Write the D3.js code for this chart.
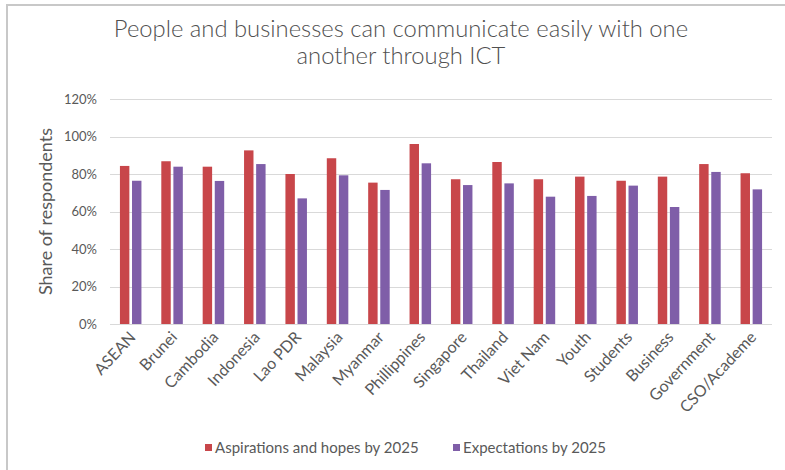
<!DOCTYPE html>
<html>
<head>
<meta charset="utf-8">
<script src="https://cdn.jsdelivr.net/npm/d3@7"></script>
<style>
  html, body { margin: 0; padding: 0; background: #fff; }
  svg { display: block; font-family: Lato, "Open Sans", sans-serif; }
</style>
</head>
<body>
<svg id="chart" width="785" height="470"></svg>
<script>
// Survey responses: share agreeing that people and businesses communicate easily via ICT
const categories = ["ASEAN", "Brunei", "Cambodia", "Indonesia", "Lao PDR", "Malaysia", "Myanmar",
  "Phillippines", "Singapore", "Thailand", "Viet Nam", "Youth", "Students", "Business",
  "Government", "CSO/Academe"];
const seriesNames = ["Aspirations and hopes by 2025", "Expectations by 2025"];
const aspirations = [84.3, 86.8, 83.9, 92.6, 80.0, 88.4, 75.4, 96.0, 77.2, 86.4, 77.2, 78.6, 76.4, 78.6, 85.3, 80.4];
const expectations = [76.4, 83.9, 76.3, 85.3, 67.0, 79.3, 71.5, 85.7, 74.1, 75.0, 67.9, 68.3, 73.8, 62.4, 81.1, 71.8];
const yTicks = [0, 20, 40, 60, 80, 100, 120];
const seriesColors = ["#c8464a", "#7f5ea8"];

const svg = d3.select("#chart");

// outer frame
svg.append("path")
  .attr("d", "M7,470 V5 H785")
  .attr("fill", "none")
  .attr("stroke", "#c8c8c8")
  .attr("stroke-width", 2);

const plot = { left: 110, right: 772, top: 99, bottom: 324 };

const x0 = d3.scaleBand()
  .domain(categories)
  .range([plot.left, plot.right])
  .paddingInner(0.48)
  .paddingOuter(0.24);

const x1 = d3.scaleBand()
  .domain(seriesNames)
  .range([0, x0.bandwidth()])
  .paddingInner(0.22);

const y = d3.scaleLinear().domain([0, 120]).range([plot.bottom, plot.top]);

// gridlines
svg.append("g")
  .selectAll("line")
  .data(yTicks)
  .join("line")
  .attr("x1", plot.left)
  .attr("x2", plot.right)
  .attr("y1", d => Math.round(y(d)) + 0.5)
  .attr("y2", d => Math.round(y(d)) + 0.5)
  .attr("stroke", "#d9d9d9")
  .attr("stroke-width", 1);

// y axis labels
const yAxis = svg.append("g")
  .attr("transform", `translate(${plot.left - 13},0)`)
  .call(d3.axisLeft(y).tickValues(yTicks).tickFormat(d => d + "%").tickSize(0).tickPadding(0));
yAxis.select(".domain").remove();
yAxis.selectAll("text")
  .attr("fill", "#595959")
  .style("font-size", "13px")
  .style("font-family", "Lato, sans-serif");

// bars
const rows = categories.map((c, i) => ({ cat: c, values: [aspirations[i], expectations[i]] }));
const groups = svg.append("g")
  .selectAll("g")
  .data(rows)
  .join("g")
  .attr("transform", d => `translate(${x0(d.cat)},0)`);

groups.selectAll("rect")
  .data(d => d.values.map((v, j) => ({ name: seriesNames[j], value: v, j })))
  .join("rect")
  .attr("x", d => x1(d.name))
  .attr("width", x1.bandwidth())
  .attr("y", d => y(d.value))
  .attr("height", d => y(0) - y(d.value))
  .attr("fill", d => seriesColors[d.j]);

// category labels, rotated
const xAxis = svg.append("g")
  .attr("transform", `translate(0,${plot.bottom})`)
  .call(d3.axisBottom(x0).tickSize(0).tickPadding(0));
xAxis.select(".domain").remove();
xAxis.selectAll("text")
  .attr("fill", "#595959")
  .style("font-size", "16px")
  .style("font-family", "Lato, sans-serif")
  .attr("text-anchor", "end")
  .attr("dy", null)
  .attr("y", 0)
  .attr("transform", "translate(6,14) rotate(-47)");

// y axis title
svg.append("text")
  .attr("transform", `translate(52,${(plot.top + plot.bottom) / 2}) rotate(-90)`)
  .attr("text-anchor", "middle")
  .attr("fill", "#595959")
  .style("font-size", "18px")
  .text("Share of respondents");

// chart title
const title = svg.append("text")
  .attr("text-anchor", "middle")
  .attr("fill", "#505050")
  .style("font-size", "23.8px")
  .style("font-weight", 300);
title.append("tspan").attr("x", 401).attr("y", 37).text("People and businesses can communicate easily with one");
title.append("tspan").attr("x", 401).attr("y", 64).text("another through ICT");

// legend
const legendX = [205, 453];
const legend = svg.append("g")
  .selectAll("g")
  .data(seriesNames)
  .join("g")
  .attr("transform", (d, i) => `translate(${legendX[i]},449)`);
legend.append("rect")
  .attr("x", 0).attr("y", -5)
  .attr("width", 7).attr("height", 7)
  .attr("fill", (d, i) => seriesColors[i]);
legend.append("text")
  .attr("x", 10)
  .attr("y", 4)
  .attr("fill", "#595959")
  .style("font-size", "15px")
  .text(d => d);
</script>
</body>
</html>
